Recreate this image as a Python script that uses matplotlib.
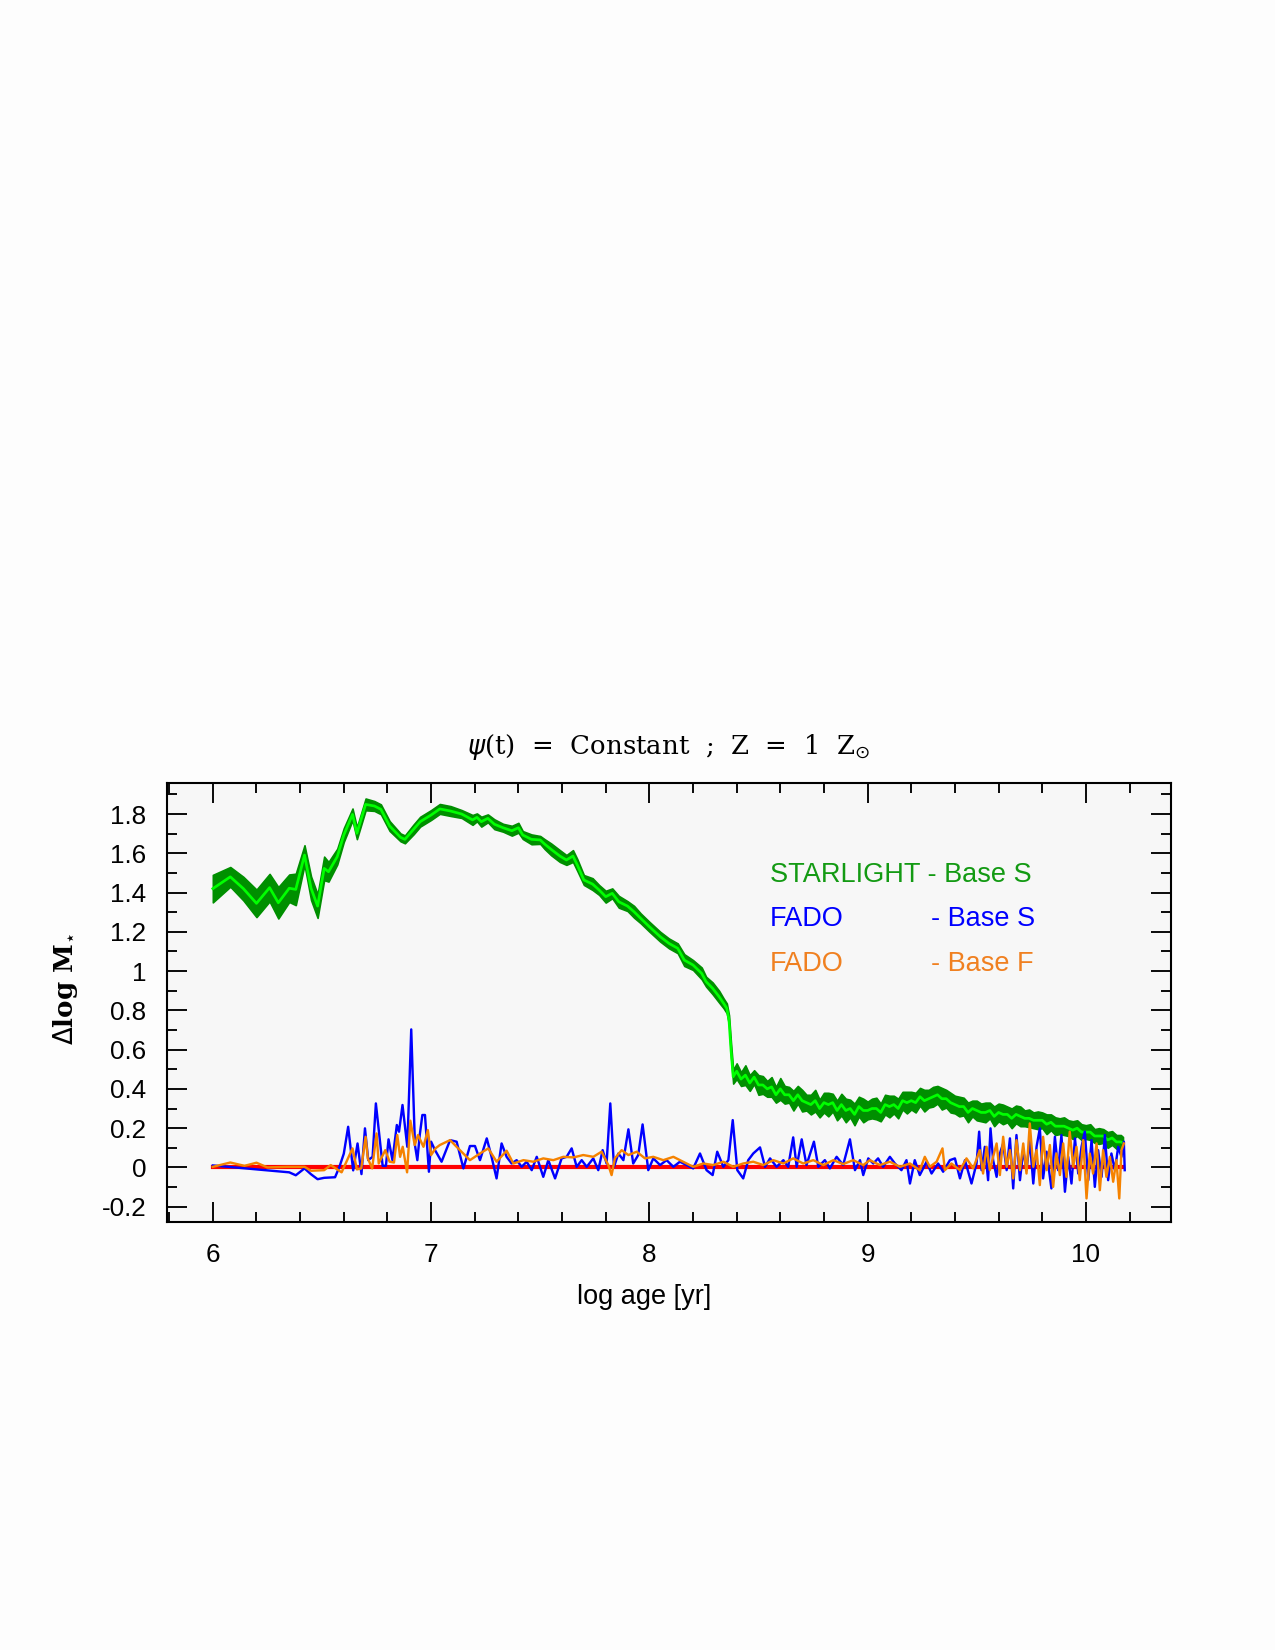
import numpy as np
import matplotlib
matplotlib.use("Agg")
import matplotlib.pyplot as plt
from matplotlib.ticker import MultipleLocator, FuncFormatter

# STARLIGHT - Base S : centre line and half-width of the band
sl_age = [6.00, 6.08, 6.14, 6.20, 6.26, 6.30, 6.35, 6.38, 6.42, 6.45, 6.48, 6.51, 6.53, 6.57,
          6.60, 6.64, 6.66, 6.70, 6.74, 6.77, 6.81, 6.86, 6.88, 6.92, 6.95, 7.00, 7.04,
          7.09, 7.14, 7.19, 7.21, 7.23, 7.26, 7.29, 7.33, 7.37, 7.40, 7.42, 7.46, 7.50, 7.52,
          7.55, 7.59, 7.62, 7.65, 7.67, 7.70, 7.74, 7.77, 7.80, 7.83, 7.86, 7.90, 7.93, 7.96,
          8.00, 8.05, 8.09, 8.13, 8.16, 8.20, 8.24, 8.26, 8.29, 8.32, 8.34, 8.355, 8.365, 8.374,
          8.384, 8.40, 8.42, 8.44, 8.46, 8.48, 8.50, 8.52, 8.54, 8.56, 8.58, 8.60, 8.62, 8.64,
          8.66, 8.68, 8.70, 8.72, 8.74, 8.76, 8.78, 8.80, 8.82, 8.84, 8.86, 8.88, 8.90, 8.92,
          8.94, 8.96, 8.98, 9.00, 9.02, 9.04, 9.06, 9.08, 9.10, 9.12, 9.14, 9.16, 9.18, 9.20,
          9.22, 9.24, 9.26, 9.28, 9.30, 9.32, 9.34, 9.36, 9.38, 9.40, 9.42, 9.44, 9.46, 9.48,
          9.50, 9.52, 9.54, 9.56, 9.58, 9.60, 9.62, 9.64, 9.66, 9.68, 9.70, 9.72, 9.74, 9.76,
          9.78, 9.80, 9.82, 9.84, 9.86, 9.88, 9.90, 9.92, 9.94, 9.96, 9.98, 10.00, 10.02, 10.04,
          10.06, 10.08, 10.10, 10.12, 10.14, 10.16, 10.17]
sl_mid = [1.42, 1.48, 1.42, 1.345, 1.425, 1.348, 1.422, 1.416, 1.591, 1.422, 1.331, 1.523, 1.506, 1.583,
          1.693, 1.798, 1.702, 1.849, 1.841, 1.824, 1.739, 1.681, 1.671, 1.722, 1.761, 1.795, 1.826,
          1.815, 1.80, 1.77, 1.783, 1.761, 1.778, 1.748, 1.73, 1.715, 1.73, 1.693, 1.671, 1.668, 1.647,
          1.62, 1.586, 1.566, 1.586, 1.54, 1.464, 1.443, 1.413, 1.379, 1.396, 1.353, 1.331, 1.302, 1.269,
          1.226, 1.175, 1.141, 1.116, 1.056, 1.031, 0.988, 0.946, 0.912, 0.869, 0.836, 0.81, 0.75, 0.60,
          0.462, 0.49, 0.45, 0.47, 0.43, 0.46, 0.42, 0.42, 0.40, 0.41, 0.37, 0.40, 0.37, 0.37,
          0.34, 0.37, 0.34, 0.33, 0.32, 0.34, 0.30, 0.33, 0.32, 0.33, 0.29, 0.32, 0.29, 0.30,
          0.27, 0.31, 0.29, 0.29, 0.30, 0.30, 0.28, 0.32, 0.31, 0.32, 0.30, 0.34, 0.33, 0.34,
          0.33, 0.36, 0.34, 0.35, 0.36, 0.37, 0.35, 0.35, 0.33, 0.32, 0.31, 0.31, 0.28, 0.30,
          0.29, 0.28, 0.28, 0.29, 0.26, 0.28, 0.27, 0.27, 0.25, 0.27, 0.26, 0.25, 0.25, 0.24,
          0.24, 0.24, 0.22, 0.23, 0.21, 0.21, 0.21, 0.20, 0.19, 0.20, 0.18, 0.18, 0.18, 0.16,
          0.16, 0.16, 0.14, 0.15, 0.13, 0.13, 0.125]
sl_err = [0.07, 0.05, 0.06, 0.07, 0.07, 0.08, 0.07, 0.08, 0.05, 0.06, 0.06, 0.06, 0.05, 0.04,
          0.035, 0.03, 0.03, 0.03, 0.025, 0.025, 0.025, 0.02, 0.02, 0.025, 0.025, 0.025, 0.025,
          0.025, 0.02, 0.025, 0.02, 0.025, 0.02, 0.025, 0.02, 0.025, 0.025, 0.02, 0.025, 0.02, 0.025,
          0.03, 0.03, 0.025, 0.03, 0.03, 0.025, 0.03, 0.025, 0.03, 0.025, 0.03, 0.025, 0.03, 0.025,
          0.025, 0.025, 0.025, 0.025, 0.03, 0.025, 0.03, 0.025, 0.03, 0.03, 0.025, 0.025, 0.025, 0.035,
          0.035, 0.04, 0.035, 0.05, 0.04, 0.035, 0.05, 0.045, 0.04, 0.05, 0.04, 0.055, 0.045, 0.04,
          0.05, 0.045, 0.055, 0.04, 0.05, 0.055, 0.045, 0.05, 0.06, 0.045, 0.05, 0.055, 0.06, 0.045,
          0.055, 0.05, 0.06, 0.045, 0.05, 0.055, 0.045, 0.05, 0.055, 0.045, 0.05, 0.045, 0.055, 0.045,
          0.05, 0.045, 0.055, 0.045, 0.05, 0.045, 0.055, 0.045, 0.05, 0.045, 0.05, 0.045, 0.05, 0.04,
          0.05, 0.045, 0.05, 0.04, 0.05, 0.045, 0.05, 0.04, 0.05, 0.045, 0.05, 0.04, 0.045, 0.04,
          0.045, 0.04, 0.05, 0.04, 0.045, 0.04, 0.045, 0.04, 0.045, 0.04, 0.04, 0.035, 0.04, 0.035,
          0.04, 0.035, 0.04, 0.035, 0.035, 0.035, 0.03]

# FADO - Base S
fs_age = [6.00, 6.20, 6.35, 6.38, 6.42, 6.45, 6.48, 6.51, 6.56, 6.58, 6.60, 6.62, 6.643, 6.663,
          6.681, 6.697, 6.712, 6.732, 6.747, 6.778, 6.793, 6.805, 6.823, 6.843, 6.853, 6.869, 6.891,
          6.909, 6.926, 6.937, 6.948, 6.96, 6.972, 6.99, 7.00, 7.018, 7.048, 7.087, 7.117, 7.148,
          7.178, 7.201, 7.224, 7.255, 7.277, 7.30, 7.323, 7.346, 7.369, 7.392, 7.415, 7.438, 7.461,
          7.484, 7.514, 7.537, 7.568, 7.598, 7.621, 7.644, 7.667, 7.69, 7.713, 7.743, 7.766, 7.786,
          7.804, 7.821, 7.838, 7.858, 7.881, 7.904, 7.926, 7.949, 7.969, 7.995, 8.018, 8.049, 8.079,
          8.11, 8.14, 8.171, 8.201, 8.232, 8.262, 8.29, 8.311, 8.339, 8.362, 8.382, 8.403, 8.43,
          8.453, 8.476, 8.507, 8.53, 8.553, 8.583, 8.614, 8.636, 8.659, 8.675, 8.698, 8.72, 8.754,
          8.774, 8.804, 8.827, 8.858, 8.888, 8.919, 8.942, 8.965, 8.98, 9.003, 9.026, 9.048, 9.071,
          9.102, 9.125, 9.155, 9.178, 9.194, 9.216, 9.239, 9.27, 9.293, 9.323, 9.346, 9.377, 9.40,
          9.423, 9.446, 9.476, 9.499, 9.511, 9.522, 9.537, 9.552, 9.563, 9.575, 9.591, 9.606, 9.621,
          9.637, 9.652, 9.667, 9.682, 9.698, 9.713, 9.728, 9.743, 9.759, 9.774, 9.789, 9.804, 9.82,
          9.842, 9.858, 9.873, 9.888, 9.904, 9.919, 9.934, 9.95, 9.965, 9.98, 9.995, 10.011, 10.026,
          10.041, 10.056, 10.072, 10.087, 10.102, 10.117, 10.133, 10.148, 10.163, 10.174, 10.178]
fs_dm = [0.01, -0.01, -0.025, -0.04, -0.005, -0.035, -0.06, -0.053, -0.05, 0.003, 0.07, 0.207, -0.015, 0.122,
         -0.034, 0.199, 0.037, 0.054, 0.326, 0.008, 0.008, 0.143, 0.037, 0.216, 0.182, 0.318, 0.105,
         0.703, 0.114, 0.037, 0.165, 0.267, 0.267, -0.022, 0.131, 0.088, 0.029, 0.139, 0.131, -0.005,
         0.109, 0.109, 0.037, 0.148, 0.054, -0.056, 0.122, 0.054, 0.02, 0.037, 0.003, 0.029, -0.014,
         0.054, -0.048, 0.037, -0.056, 0.046, 0.054, 0.097, 0.003, 0.037, 0.003, 0.046, -0.014, 0.088,
         0.02, 0.326, 0.003, 0.071, 0.037, 0.194, 0.02, 0.063, 0.219, -0.014, 0.046, 0.012, 0.037,
         0.003, 0.029, 0.012, -0.005, 0.071, -0.014, -0.039, 0.08, 0.003, 0.037, 0.241, -0.014, -0.056,
         0.037, 0.071, 0.102, 0.003, 0.046, 0.003, 0.037, 0.003, 0.153, 0.003, 0.143, 0.012, 0.131,
         0.003, 0.037, -0.005, 0.054, 0.012, 0.143, -0.014, 0.037, -0.039, 0.046, 0.02, 0.046, 0.003,
         0.054, 0.02, -0.014, 0.037, -0.082, 0.037, -0.039, 0.029, -0.031, 0.02, -0.022, 0.037, 0.046,
         -0.056, 0.037, -0.082, 0.02, 0.182, -0.014, 0.105, -0.065, 0.199, 0.037, -0.048, 0.071, 0.122,
         -0.014, 0.148, -0.107, 0.165, -0.065, 0.088, -0.014, 0.139, -0.082, 0.105, 0.199, -0.056, 0.08,
         -0.107, 0.156, -0.014, 0.165, -0.124, 0.054, -0.082, 0.148, -0.031, 0.105, 0.182, -0.065, 0.139,
         -0.099, 0.088, -0.048, 0.165, -0.065, 0.071, -0.014, 0.105, 0.054, 0.131, -0.014]

# FADO - Base F
ff_age = [6.00, 6.08, 6.145, 6.20, 6.25, 6.34, 6.42, 6.45, 6.51, 6.54, 6.59, 6.64, 6.66, 6.68,
          6.70, 6.71, 6.73, 6.75, 6.76, 6.79, 6.81, 6.83, 6.845, 6.858, 6.87, 6.89, 6.905, 6.925,
          6.94, 6.965, 6.985, 7.00, 7.02, 7.04, 7.087, 7.132, 7.178, 7.224, 7.262, 7.30, 7.346, 7.377,
          7.423, 7.468, 7.514, 7.56, 7.606, 7.652, 7.697, 7.743, 7.781, 7.812, 7.827, 7.842, 7.873,
          7.904, 7.942, 7.98, 8.018, 8.064, 8.11, 8.155, 8.201, 8.247, 8.293, 8.339, 8.384, 8.43,
          8.476, 8.522, 8.568, 8.614, 8.659, 8.705, 8.751, 8.797, 8.843, 8.888, 8.934, 8.98, 9.01,
          9.056, 9.102, 9.148, 9.194, 9.239, 9.262, 9.285, 9.316, 9.343, 9.354, 9.384, 9.423, 9.453,
          9.484, 9.514, 9.529, 9.545, 9.56, 9.575, 9.591, 9.606, 9.621, 9.637, 9.652, 9.667, 9.682,
          9.698, 9.713, 9.728, 9.743, 9.759, 9.774, 9.789, 9.804, 9.82, 9.835, 9.85, 9.865, 9.881,
          9.896, 9.911, 9.926, 9.942, 9.957, 9.972, 9.988, 10.003, 10.018, 10.033, 10.049, 10.064,
          10.079, 10.094, 10.11, 10.125, 10.14, 10.153, 10.163, 10.174]
ff_dm = [0.003, 0.025, 0.008, 0.024, 0.0, 0.003, 0.003, -0.017, -0.014, 0.012, -0.025, 0.097, -0.01, -0.005,
         0.156, 0.046, -0.005, 0.173, 0.02, 0.088, 0.029, 0.025, 0.165, 0.054, 0.105, -0.025, 0.238, 0.114,
         0.165, 0.105, 0.19, 0.063, 0.097, 0.114, 0.139, 0.088, 0.037, 0.071, 0.097, 0.029, 0.085, 0.02,
         0.037, 0.029, 0.046, 0.037, 0.054, 0.051, 0.063, 0.054, 0.08, 0.012, -0.039, 0.046, 0.088,
         0.063, 0.08, 0.046, 0.054, 0.037, 0.054, 0.029, 0.003, 0.02, 0.012, 0.029, 0.003, 0.02,
         0.029, 0.012, 0.037, 0.02, 0.046, 0.02, 0.037, 0.012, 0.037, 0.017, 0.037, 0.012, 0.037,
         0.012, 0.029, 0.003, 0.02, -0.014, 0.054, 0.003, 0.029, 0.097, -0.014, 0.02, -0.014, 0.046,
         -0.005, 0.088, -0.031, 0.105, -0.014, 0.054, 0.122, -0.039, 0.156, 0.003, 0.088, -0.056, 0.139,
         -0.014, 0.122, -0.031, 0.224, 0.003, 0.088, -0.09, 0.156, -0.014, 0.114, -0.099, 0.071, -0.039,
         0.122, -0.048, 0.182, 0.003, 0.105, -0.065, 0.139, -0.158, 0.071, -0.031, 0.122, -0.116,
         0.088, -0.048, 0.054, -0.073, 0.037, -0.158, 0.088, 0.122]

ref_age = [6.0, 10.17]
ref_dm = [0.0, 0.0]

lo = np.array(sl_mid) - np.array(sl_err)
hi = np.array(sl_mid) + np.array(sl_err)

fig = plt.figure(figsize=(8.5, 11), dpi=150)
fig.patch.set_facecolor('#fdfdfd')
ax = fig.add_axes([167/1275, 1-1222/1650, 1004/1275, 439/1650])
ax.set_facecolor('#f7f7f7')

ax.fill_between(sl_age, lo, hi, color='#008f00', lw=0.8, edgecolor='#008f00')
ax.plot(sl_age, sl_mid, color='#00ff00', lw=1.3)
ax.plot(ref_age, ref_dm, color='#ff0000', lw=2.0)
ax.plot(fs_age, fs_dm, color='#0000ff', lw=1.15)
ax.plot(ff_age, ff_dm, color='#f58200', lw=1.15)

ax.set_xlim(5.79, 10.39)
ax.set_ylim(-0.278, 1.958)
ax.xaxis.set_major_locator(MultipleLocator(1))
ax.xaxis.set_minor_locator(MultipleLocator(0.2))
ax.yaxis.set_major_locator(MultipleLocator(0.2))
ax.yaxis.set_minor_locator(MultipleLocator(0.1))
ax.yaxis.set_major_formatter(FuncFormatter(lambda v, p: '%g' % round(v, 2)))
ax.xaxis.set_major_formatter(FuncFormatter(lambda v, p: '%g' % v))
ax.tick_params(which='both', direction='in', top=True, right=True, width=0.9, color='black')
ax.tick_params(which='major', length=9.6, pad=10, labelsize=12.5)
ax.tick_params(which='minor', length=4.8)
for lab in ax.get_xticklabels() + ax.get_yticklabels():
    lab.set_family('Liberation Sans')
for s in ax.spines.values():
    s.set_linewidth(1.0)

# legend written as text
lx1, lx2 = 8.552, 9.29
ax.text(lx1, 1.489, 'STARLIGHT - Base S', color='#139a13', fontsize=13, family='Liberation Sans', va='center')
ax.text(lx1, 1.265, 'FADO', color='#0000ff', fontsize=13, family='Liberation Sans', va='center')
ax.text(lx2, 1.265, '- Base S', color='#0000ff', fontsize=13, family='Liberation Sans', va='center')
ax.text(lx1, 1.038, 'FADO', color='#f08020', fontsize=13, family='Liberation Sans', va='center')
ax.text(lx2, 1.038, '- Base F', color='#f08020', fontsize=13, family='Liberation Sans', va='center')

ax.text(0.475, -0.171, 'log age [yr]', transform=ax.transAxes, ha='center', va='center',
        fontsize=13, family='Liberation Sans')
fig.text(65/1275, 1-989/1650, r'$\Delta$log M$_{\star}$', rotation=90, ha='center', va='center',
         fontsize=12.5, family='DejaVu Serif', fontweight='bold')
fig.text(669/1275, 1-747/1650, r'$\psi$(t)  =  Constant  ;  Z  =  1  Z$_{\odot}$',
         ha='center', va='center', fontsize=12.5, family='DejaVu Serif')

fig.savefig('out.png', dpi=150, facecolor=fig.get_facecolor())
